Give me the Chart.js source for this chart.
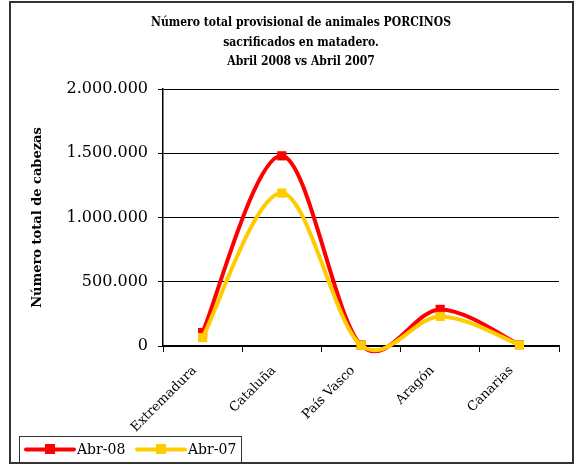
<!DOCTYPE html>
<html>
<head>
<meta charset="utf-8">
<script src="https://cdn.jsdelivr.net/npm/chart.js@4"></script>
<style>
  body { margin: 0; background: #fff; }
  #wrap { width: 583px; height: 472px; }
</style>
</head>
<body>
<div id="wrap"><canvas id="porcinos"></canvas></div>
<script>
var categories = ["Extremadura", "Cataluña", "País Vasco", "Aragón", "Canarias"];
var abr08 = [105000, 1480000, 8000, 285000, 10000];
var abr07 = [65000, 1190000, 6000, 230000, 9000];
var titleLines = ["Número total provisional de animales PORCINOS", "sacrificados en matadero.", "Abril 2008 vs Abril 2007"];
var yTitle = "Número total de cabezas";

var SERIF = "'DejaVu Serif', serif";

function fmt(v) {
  return String(v).replace(/\B(?=(\d{3})+(?!\d))/g, ".");
}

// excel-like smoothing: control points at +-(next - prev)/6
var excelSmooth = {
  id: "excelSmooth",
  beforeDatasetDraw: function(chart, args) {
    var meta = args.meta;
    meta.dataset.updateControlPoints(chart.chartArea, "x");
    var pts = meta.data;
    for (var i = 0; i < pts.length; i++) {
      var p = pts[i];
      var prev = pts[i - 1] || p;
      var next = pts[i + 1] || p;
      var dx = (next.x - prev.x) / 6;
      var dy = (next.y - prev.y) / 6;
      p.cp1x = p.x - dx; p.cp1y = p.y - dy;
      p.cp2x = p.x + dx; p.cp2y = p.y + dy;
    }
    meta.dataset._path = undefined;
  }
};

// frame, title and legend box
var decor = {
  id: "decor",
  beforeDraw: function(chart) {
    var ctx = chart.ctx;
    ctx.save();
    ctx.fillStyle = "#fff";
    ctx.fillRect(0, 0, chart.width, chart.height);
    ctx.restore();
  },
  afterDraw: function(chart) {
    var ctx = chart.ctx;
    ctx.save();
    ctx.strokeStyle = "#333";
    ctx.lineWidth = 2;
    ctx.strokeRect(10, 2, 563, 461);

    ctx.fillStyle = "#000";
    ctx.font = "bold 13px " + SERIF;
    ctx.textAlign = "center";
    ctx.textBaseline = "middle";
    var squeeze = 300 / ctx.measureText(titleLines[0]).width;
    for (var i = 0; i < titleLines.length; i++) {
      var w = ctx.measureText(titleLines[i]).width * squeeze;
      ctx.fillText(titleLines[i], 301, 23 + i * 19.5, w);
    }

    // legend
    ctx.lineWidth = 1;
    ctx.strokeStyle = "#333";
    ctx.strokeRect(19.5, 436.5, 222, 26);
    var x = 26;
    chart.data.datasets.forEach(function(ds) {
      ctx.strokeStyle = ds.borderColor;
      ctx.lineWidth = 4;
      ctx.lineCap = "round";
      ctx.beginPath();
      ctx.moveTo(x, 449.5);
      ctx.lineTo(x + 48, 449.5);
      ctx.stroke();
      ctx.fillStyle = ds.borderColor;
      ctx.fillRect(x + 19, 444, 10, 10);
      ctx.fillStyle = "#000";
      ctx.font = "14px " + SERIF;
      ctx.textAlign = "left";
      ctx.fillText(ds.label, x + 51, 450);
      x += 111;
    });
    ctx.restore();
  }
};

new Chart(document.getElementById("porcinos"), {
  type: "line",
  data: {
    labels: categories,
    datasets: [
      {
        label: "Abr-08",
        data: abr08,
        borderColor: "#ff0000",
        backgroundColor: "#ff0000",
        borderWidth: 4,
        tension: 0.4,
        capBezierPoints: false,
        clip: false,
        pointStyle: "rect",
        pointRadius: 6.5,
        pointBorderWidth: 0,
        order: 2
      },
      {
        label: "Abr-07",
        data: abr07,
        borderColor: "#ffcc00",
        backgroundColor: "#ffcc00",
        borderWidth: 4,
        tension: 0.4,
        capBezierPoints: false,
        clip: false,
        pointStyle: "rect",
        pointRadius: 6.5,
        pointBorderWidth: 0,
        order: 1
      }
    ]
  },
  options: {
    responsive: true,
    maintainAspectRatio: false,
    animation: false,
    layout: { padding: { left: 10, right: 24, top: 89, bottom: 40 } },
    plugins: {
      legend: { display: false },
      title: { display: false },
      tooltip: { enabled: false }
    },
    scales: {
      x: {
        offset: true,
        grid: { offset: true, drawOnChartArea: false, color: "#000", tickLength: 6 },
        border: { color: "#000", width: 1.5 },
        ticks: {
          color: "#000",
          font: { family: SERIF, size: 13 },
          maxRotation: 45,
          minRotation: 45,
          padding: 11,
          labelOffset: -8
        },
        afterFit: function(scale) { scale.height = 86; }
      },
      y: {
        min: 0,
        max: 2000000,
        grid: { color: "#000", tickLength: 5 },
        border: { color: "#000", width: 1.5 },
        ticks: {
          stepSize: 500000,
          color: "#000",
          font: { family: SERIF, size: 16 },
          padding: 10,
          callback: function(value) { return fmt(value); }
        },
        title: {
          display: true,
          text: yTitle,
          color: "#000",
          font: { family: SERIF, size: 13, weight: "bold" },
          padding: { top: 20, bottom: 0 }
        },
        afterFit: function(scale) { scale.width = 153; }
      }
    }
  },
  plugins: [excelSmooth, decor]
});
</script>
</body>
</html>
